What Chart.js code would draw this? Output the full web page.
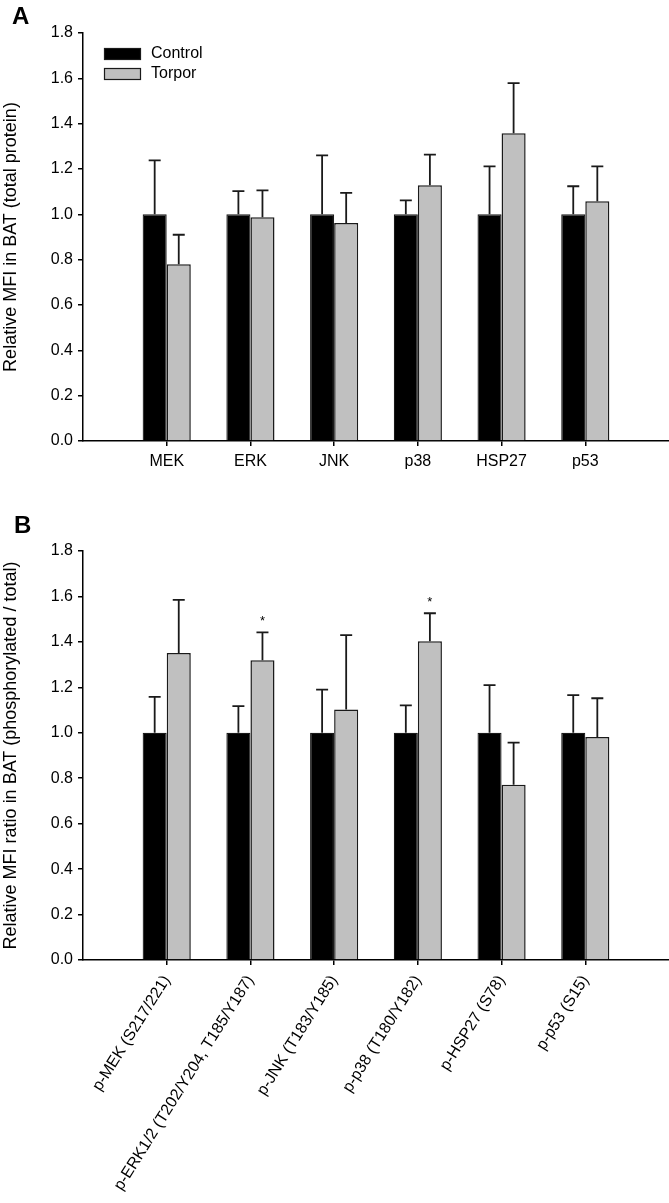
<!DOCTYPE html>
<html>
<head>
<meta charset="utf-8">
<script src="https://cdn.jsdelivr.net/npm/chart.js@4.4.1/dist/chart.umd.min.js"></script>
<style>
  body { margin: 0; background: #fff; }
  #wrap { position: relative; width: 669px; height: 1203px; }
  #chartA { position: absolute; left: 0; top: 0; }
  #chartB { position: absolute; left: 0; top: 480px; }
</style>
</head>
<body>
<div id="wrap">
  <canvas id="chartA" width="669" height="480"></canvas>
  <canvas id="chartB" width="669" height="723"></canvas>
</div>
<script>
// Panel A - total protein
const categoriesA = ['MEK', 'ERK', 'JNK', 'p38', 'HSP27', 'p53'];
const controlA = [1.0, 1.0, 1.0, 1.0, 1.0, 1.0];
const torporA = [0.78, 0.987, 0.962, 1.128, 1.358, 1.058];
const controlErrA = [0.238, 0.102, 0.26, 0.062, 0.212, 0.124];
const torporErrA = [0.13, 0.119, 0.133, 0.135, 0.221, 0.154];

// Panel B - phosphorylated / total
const categoriesB = ['p-MEK (S217/221)', 'p-ERK1/2 (T202/Y204, T185/Y187)', 'p-JNK (T183/Y185)',
  'p-p38 (T180/Y182)', 'p-HSP27 (S78)', 'p-p53 (S15)'];
const controlB = [1.0, 1.0, 1.0, 1.0, 1.0, 1.0];
const torporB = [1.351, 1.319, 1.102, 1.403, 0.771, 0.981];
const controlErrB = [0.158, 0.117, 0.19, 0.121, 0.21, 0.166];
const torporErrB = [0.234, 0.123, 0.328, 0.123, 0.186, 0.171];
const significanceB = ['', '*', '', '*', '', ''];

const yTicks = [0.0, 0.2, 0.4, 0.6, 0.8, 1.0, 1.2, 1.4, 1.6, 1.8];

const FONT = 'Arial, "Liberation Sans", sans-serif';
const BLACK = '#000000';
const GREY = '#c0c0c0';
const EDGE = '#1a1a1a';

// pad one empty slot each side so the axis runs past the first / last group
const pad = arr => [null, ...arr, null];

// upward error bars + optional significance marks
const errorBarPlugin = {
  id: 'errorBars',
  afterDatasetsDraw(chart, args, opts) {
    const ctx = chart.ctx;
    const y = chart.scales.y;
    ctx.save();
    ctx.strokeStyle = EDGE;
    ctx.lineWidth = 1.8;
    chart.data.datasets.forEach((ds, di) => {
      const meta = chart.getDatasetMeta(di);
      ds.data.forEach((v, i) => {
        if (v == null) return;
        const err = ds.errors[i];
        const x = meta.data[i].x;
        const y0 = y.getPixelForValue(v);
        const y1 = y.getPixelForValue(v + err);
        ctx.beginPath();
        ctx.moveTo(x, y0);
        ctx.lineTo(x, y1);
        ctx.moveTo(x - 6, y1);
        ctx.lineTo(x + 6, y1);
        ctx.stroke();
        if (ds.marks && ds.marks[i]) {
          ctx.fillStyle = '#000';
          ctx.font = '13px ' + FONT;
          ctx.textAlign = 'center';
          ctx.textBaseline = 'alphabetic';
          ctx.fillText(ds.marks[i], x, y1 - 7);
        }
      });
    });
    ctx.restore();
  }
};

// panel letter and in-plot legend
const decorPlugin = {
  id: 'decor',
  afterDraw(chart, args, opts) {
    const ctx = chart.ctx;
    ctx.save();
    ctx.fillStyle = '#000';
    ctx.font = 'bold 24px ' + FONT;
    ctx.textAlign = 'left';
    ctx.textBaseline = 'alphabetic';
    ctx.fillText(opts.letter, opts.letterX, opts.letterY);
    if (opts.legend) {
      const a = chart.chartArea;
      chart.data.datasets.forEach((ds, i) => {
        const sx = a.left + 21;
        const sy = a.top + 15 + i * 20;
        ctx.fillStyle = ds.backgroundColor;
        ctx.fillRect(sx, sy, 37, 12);
        ctx.strokeStyle = EDGE;
        ctx.lineWidth = 1.2;
        ctx.strokeRect(sx + 0.5, sy + 0.5, 36, 11);
        ctx.fillStyle = '#000';
        ctx.font = '16px ' + FONT;
        ctx.textBaseline = 'middle';
        ctx.fillText(ds.label, sx + 47, sy + 6);
      });
    }
    ctx.restore();
  }
};

function makeChart(id, cats, ctrl, ctrlErr, torp, torpErr, marks, cfg) {
  return new Chart(document.getElementById(id), {
    type: 'bar',
    data: {
      labels: ['', ...cats, ''],
      datasets: [
        { label: 'Control', data: pad(ctrl), errors: pad(ctrlErr), backgroundColor: BLACK,
          borderColor: EDGE, borderWidth: 1.2 },
        { label: 'Torpor', data: pad(torp), errors: pad(torpErr), marks: marks ? pad(marks) : null,
          backgroundColor: GREY, borderColor: EDGE, borderWidth: 1.5 }
      ]
    },
    options: {
      responsive: false,
      animation: false,
      devicePixelRatio: 1,
      categoryPercentage: 0.575,
      barPercentage: 1.0,
      layout: { padding: { top: cfg.top, left: 0, right: 0, bottom: 0 } },
      plugins: {
        legend: { display: false },
        tooltip: { enabled: false },
        decor: cfg.decor
      },
      scales: {
        x: {
          offset: false,
          grid: {
            offset: false,
            drawOnChartArea: false,
            drawTicks: true,
            tickLength: 5,
            lineWidth: 1.5,
            color: c => (c.tick && c.tick.label) ? '#000' : 'rgba(0,0,0,0)'
          },
          border: { display: true, color: '#000', width: 1.5 },
          ticks: {
            autoSkip: false,
            color: '#000',
            font: { family: FONT, size: 16 },
            padding: cfg.xPad,
            minRotation: cfg.rot,
            maxRotation: cfg.rot
          },
          afterFit: s => {
            s.height = cfg.xHeight;
            s.paddingLeft = 0;
            s.paddingRight = 0;
          }
        },
        y: {
          min: 0,
          max: 1.8,
          afterBuildTicks: s => { s.ticks = yTicks.map(v => ({ value: v })); },
          grid: { drawOnChartArea: false, drawTicks: true, tickLength: 5, lineWidth: 1.5, color: '#000' },
          border: { display: true, color: '#000', width: 1.5 },
          ticks: {
            color: '#000',
            font: { family: FONT, size: 16 },
            padding: 5,
            callback: v => Number(v).toFixed(1)
          },
          title: {
            display: true,
            text: cfg.yTitle,
            color: '#000',
            font: { family: FONT, size: 18 },
            padding: { top: 0, bottom: 6 }
          },
          afterFit: s => { s.width = 83; }
        }
      }
    },
    plugins: [errorBarPlugin, decorPlugin]
  });
}

makeChart('chartA', categoriesA, controlA, controlErrA, torporA, torporErrA, null, {
  top: 33, xHeight: 39, xPad: 6, rot: 0,
  yTitle: 'Relative MFI in BAT (total protein)',
  decor: { letter: 'A', letterX: 12, letterY: 24, legend: true }
});

makeChart('chartB', categoriesB, controlB, controlErrB, torporB, torporErrB, significanceB, {
  top: 71, xHeight: 243, xPad: 7, rot: 58,
  yTitle: 'Relative MFI ratio in BAT (phosphorylated / total)',
  decor: { letter: 'B', letterX: 14, letterY: 53, legend: false }
});
</script>
</body>
</html>
